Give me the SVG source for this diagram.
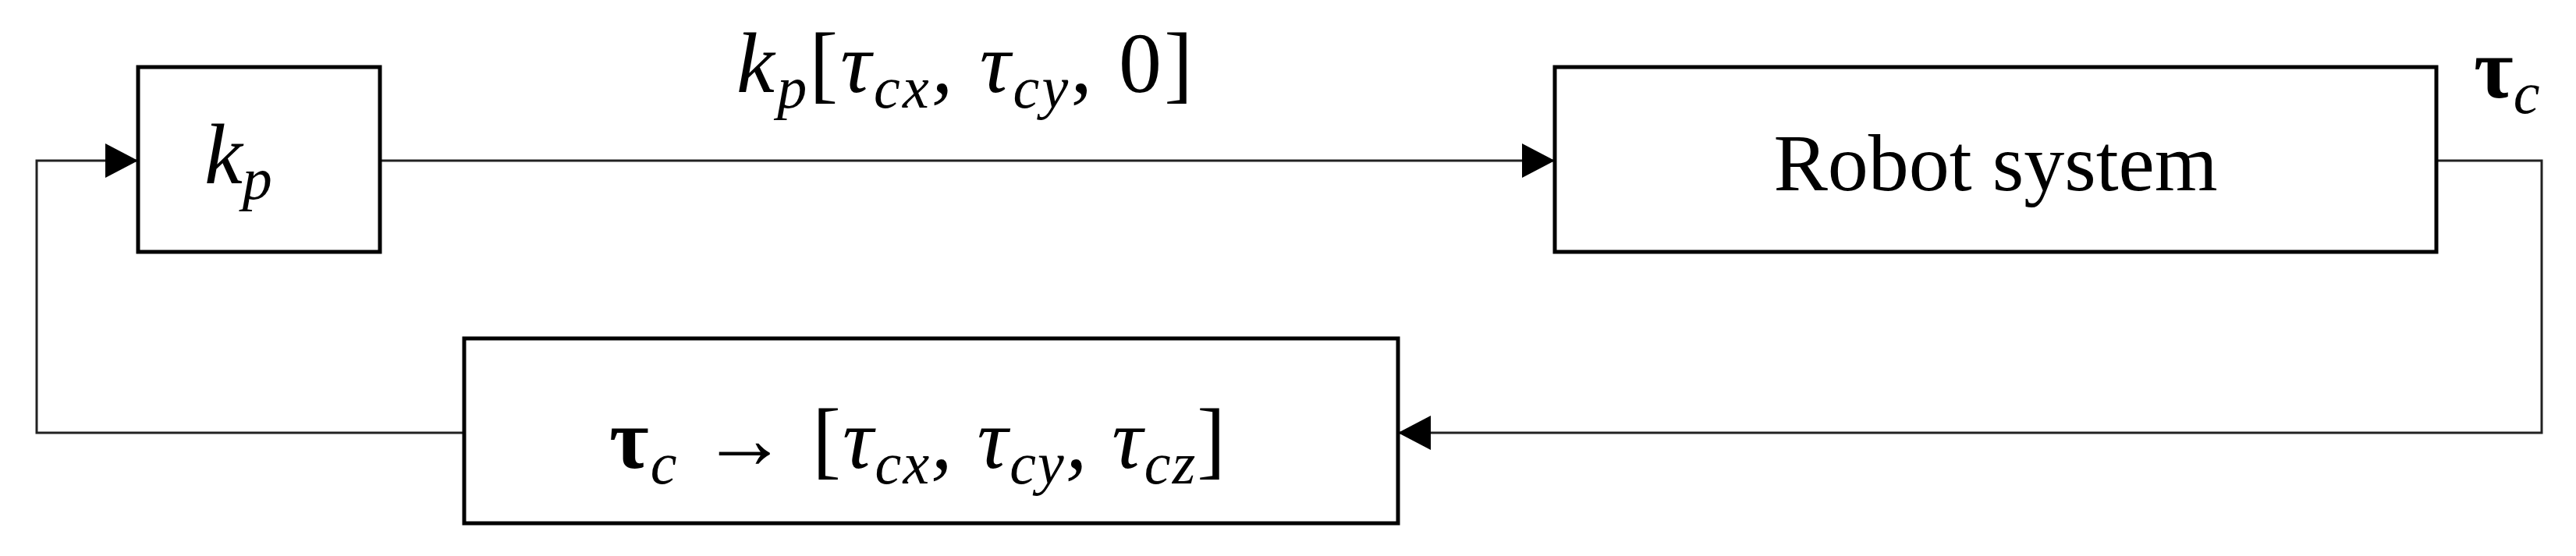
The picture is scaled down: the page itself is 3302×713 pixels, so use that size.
<svg xmlns="http://www.w3.org/2000/svg" width="3302" height="713" viewBox="0 0 3302 713">
<style>
.box{fill:#fff;stroke:#000;stroke-width:5}
.ln{fill:none;stroke:#222;stroke-width:3}
text{font-family:"Liberation Serif","DejaVu Serif",serif;fill:#000}
.m{font-style:italic;font-size:110px}
.s{font-size:76px}
.b{font-style:normal;font-weight:bold}
</style>
<defs>
<marker id="ar" markerWidth="42" markerHeight="44" refX="42" refY="22" markerUnits="userSpaceOnUse" orient="auto">
<path d="M0,0 L42,22 L0,44 Z" fill="#000"/>
</marker>
</defs>
<g id="connectors">
<path class="ln" d="M487,206 H1993" marker-end="url(#ar)"/>
<path class="ln" d="M3123,206 H3258 V555 H1792" marker-end="url(#ar)"/>
<path class="ln" d="M595,555 H47 V206 H177" marker-end="url(#ar)"/>
</g>
<g id="kp">
<rect class="box" x="177" y="86" width="310" height="237"/>
<text class="m" x="262" y="235">k<tspan class="s" dy="20">p</tspan></text>
</g>
<g id="robot">
<rect class="box" x="1993" y="86" width="1130" height="237"/>
<text x="2558" y="244" font-size="104" text-anchor="middle">Robot system</text>
</g>
<g id="convert">
<rect class="box" x="595" y="434" width="1197" height="237"/>
<text class="m" x="781" y="600" textLength="790"><tspan class="b">τ</tspan><tspan class="s" dy="20">c</tspan><tspan dy="-20" font-style="normal"> → [</tspan>τ<tspan class="s" dy="20">cx</tspan><tspan dy="-20">, τ</tspan><tspan class="s" dy="20">cy</tspan><tspan dy="-20">, τ</tspan><tspan class="s" dy="20">cz</tspan><tspan dy="-20" font-style="normal">]</tspan></text>
</g>
<g id="labels">
<text class="m" x="944" y="118" textLength="585"><tspan>k</tspan><tspan class="s" dy="20">p</tspan><tspan dy="-20" font-style="normal">[</tspan>τ<tspan class="s" dy="20">cx</tspan><tspan dy="-20">, τ</tspan><tspan class="s" dy="20">cy</tspan><tspan dy="-20" font-style="normal">, 0]</tspan></text>
<text class="m" x="3171" y="125"><tspan class="b">τ</tspan><tspan class="s" dy="20">c</tspan></text>
</g>
</svg>
